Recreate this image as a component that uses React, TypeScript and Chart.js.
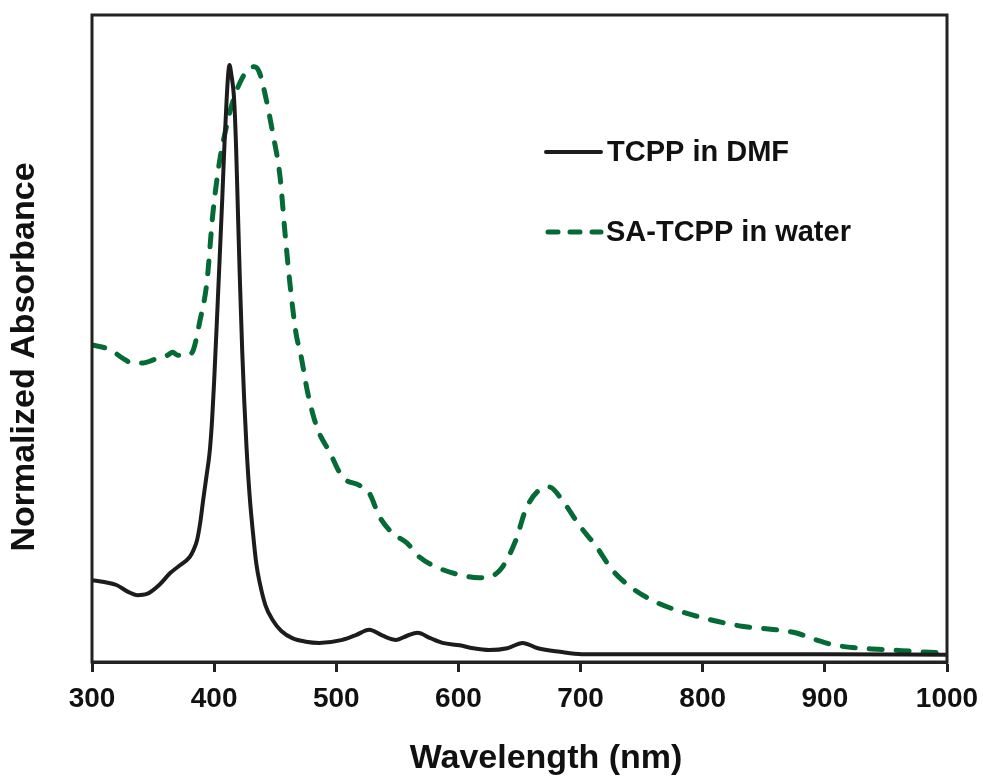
import React, { useEffect, useRef } from "react";
import { Chart, registerables } from "chart.js";

Chart.register(...registerables);

// ---- Data ----
const tcppWavelength = [
  300, 310, 320, 330, 337, 345, 355, 364, 372, 380, 383, 386, 388.5, 391, 393.5, 396.5, 398.3,
  400, 403, 406.6, 408.5, 410.2, 411.5, 412.6, 414, 416.4, 418, 419.2, 421, 423, 424.6, 426.5, 429,
  431.8, 434.5, 437.4, 442, 448, 455, 464, 475, 486, 505, 516, 527, 538, 549, 558, 566.5, 577, 587,
  601, 612, 625, 640, 652.5, 665, 683, 701, 750, 800, 900, 1000,
];
const tcppAbsorbance = [
  0.137, 0.134, 0.129, 0.117, 0.112, 0.114, 0.129, 0.149, 0.162, 0.176, 0.187, 0.204, 0.232,
  0.271, 0.308, 0.355, 0.405, 0.47, 0.606, 0.774, 0.87, 0.941, 0.985, 1.0, 0.985, 0.941, 0.86,
  0.774, 0.645, 0.52, 0.439, 0.36, 0.28, 0.216, 0.165, 0.132, 0.095, 0.07, 0.052, 0.04, 0.034,
  0.032, 0.037, 0.045, 0.054, 0.044, 0.037, 0.044, 0.049, 0.04, 0.032, 0.028, 0.023, 0.02, 0.023,
  0.032, 0.023, 0.017, 0.013, 0.013, 0.013, 0.013, 0.012,
];

const saWavelength = [
  300, 315, 325, 333, 342, 350, 356, 362, 366, 370, 378, 383, 388, 394, 399, 405, 410, 414, 421,
  429, 433, 437, 441.5, 448, 454, 458, 462, 467, 471, 476.6, 484, 495, 505, 519, 527, 535.5, 546,
  558, 568, 582, 601, 617, 634, 647, 655, 666, 674.5, 685, 699, 713, 726, 742, 762, 783, 808, 832,
  860, 876, 893, 909, 930, 955, 980, 1000,
];
const saAbsorbance = [
  0.531, 0.523, 0.509, 0.501, 0.501, 0.506, 0.511, 0.514, 0.519, 0.514, 0.514, 0.523, 0.568,
  0.635, 0.752, 0.846, 0.896, 0.93, 0.97, 0.995, 0.997, 0.988, 0.953, 0.886, 0.812, 0.719, 0.635,
  0.551, 0.514, 0.451, 0.394, 0.35, 0.31, 0.296, 0.283, 0.243, 0.216, 0.199, 0.176, 0.159, 0.146,
  0.141, 0.154, 0.204, 0.255, 0.288, 0.293, 0.271, 0.229, 0.193, 0.154, 0.124, 0.1, 0.084, 0.07,
  0.06, 0.054, 0.049, 0.037, 0.028, 0.023, 0.02, 0.017, 0.015,
];

const xTickValues = [300, 400, 500, 600, 700, 800, 900, 1000];
const seriesLabels = ["TCPP in DMF", "SA-TCPP in water"];
const xTitle = "Wavelength (nm)";
const yTitle = "Normalized Absorbance";

const FONT = '"Liberation Sans", Arial, Helvetica, sans-serif';
const BLACK = "#1c1c1c";
const GREEN = "#056b36";
const FRAME = "#222222";

const framePlugin = {
  id: "frameAndText",
  afterDraw(chart: any) {
    const { ctx, chartArea } = chart;
    const { left, top, right, bottom } = chartArea;
    ctx.save();
    // frame
    ctx.strokeStyle = FRAME;
    ctx.lineWidth = 3;
    ctx.setLineDash([]);
    ctx.strokeRect(left, top, right - left, bottom - top);

    // legend
    ctx.lineCap = "round";
    ctx.strokeStyle = BLACK;
    ctx.lineWidth = 4;
    ctx.beginPath();
    ctx.moveTo(546, 152);
    ctx.lineTo(601, 152);
    ctx.stroke();

    ctx.strokeStyle = GREEN;
    ctx.lineWidth = 5;
    ctx.setLineDash([10, 12]);
    ctx.beginPath();
    ctx.moveTo(548, 232);
    ctx.lineTo(601, 232);
    ctx.stroke();
    ctx.setLineDash([]);

    ctx.fillStyle = "#111111";
    ctx.font = `bold 29px ${FONT}`;
    ctx.textAlign = "left";
    ctx.textBaseline = "middle";
    ctx.fillText(seriesLabels[0], 607, 153);
    ctx.fillText(seriesLabels[1], 606, 233);

    // axis titles
    ctx.font = `bold 34px ${FONT}`;
    ctx.textAlign = "center";
    ctx.textBaseline = "alphabetic";
    ctx.fillText(xTitle, 546, 768);

    ctx.translate(34, 357);
    ctx.rotate(-Math.PI / 2);
    ctx.fillText(yTitle, 0, 0);
    ctx.restore();
  },
};

export default function App() {
  const canvasRef = useRef<HTMLCanvasElement | null>(null);

  useEffect(() => {
    if (!canvasRef.current) return;
    const chart = new Chart(canvasRef.current, {
      type: "line",
      data: {
        datasets: [
          {
            label: seriesLabels[0],
            data: tcppWavelength.map((w, i) => ({ x: w, y: tcppAbsorbance[i] })),
            borderColor: BLACK,
            borderWidth: 4,
            pointRadius: 0,
            fill: false,
            cubicInterpolationMode: "monotone",
            borderCapStyle: "round",
            borderJoinStyle: "round",
          },
          {
            label: seriesLabels[1],
            data: saWavelength.map((w, i) => ({ x: w, y: saAbsorbance[i] })),
            borderColor: GREEN,
            borderWidth: 5,
            borderDash: [13, 14],
            pointRadius: 0,
            fill: false,
            cubicInterpolationMode: "monotone",
            borderCapStyle: "round",
            borderJoinStyle: "round",
          },
        ],
      },
      options: {
        animation: false,
        responsive: false,
        devicePixelRatio: 1,
        layout: { padding: { left: 92, right: 36, top: 15, bottom: 0 } },
        plugins: {
          legend: { display: false },
          tooltip: { enabled: false },
          title: { display: false },
        },
        scales: {
          x: {
            type: "linear",
            min: 300,
            max: 1000,
            afterBuildTicks: (s: any) => {
              s.ticks = xTickValues.map((v) => ({ value: v }));
            },
            afterFit: (s: any) => {
              s.height = 114;
              s.paddingLeft = 0;
              s.paddingRight = 0;
            },
            grid: {
              display: true,
              drawOnChartArea: false,
              drawTicks: true,
              tickLength: 10,
              tickWidth: 3,
              tickColor: FRAME,
            },
            border: { display: true, color: FRAME, width: 3 },
            ticks: {
              color: "#111111",
              font: { family: FONT, size: 28, weight: "bold" },
              padding: 10,
              maxRotation: 0,
              autoSkip: false,
              callback: (v: any) => String(v),
            },
          },
          y: {
            type: "linear",
            display: false,
            min: 0,
            max: 1.0838,
          },
        },
      } as any,
      plugins: [framePlugin],
    });
    return () => chart.destroy();
  }, []);

  return (
    <div style={{ position: "absolute", left: 0, top: 0, width: 983, height: 776, background: "#ffffff" }}>
      <canvas ref={canvasRef} width={983} height={776} style={{ width: 983, height: 776, display: "block" }} />
    </div>
  );
}
